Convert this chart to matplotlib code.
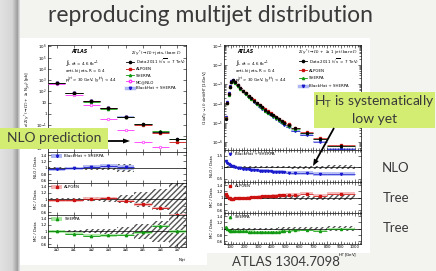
import numpy as np
import matplotlib
matplotlib.use("Agg")
from matplotlib import pyplot as plt
from matplotlib.patches import Rectangle, FancyArrow
from matplotlib.lines import Line2D
from matplotlib.ticker import FixedLocator, NullFormatter, FuncFormatter

# ---- left plot: cross section vs inclusive jet multiplicity ----
njet_labels = ['≥0', '≥1', '≥2', '≥3', '≥4', '≥5', '≥6', '≥7']
data_xs = [520, 70, 13, 3.0, 0.55, 0.12, 0.025, 0.006]
data_unc = [0.03, 0.03, 0.06, 0.08, 0.12, 0.22, 0.32, 0.5]
mcnlo_xs = [480, 46, 6, 0.35, 0.037, 0.0028, 0.0011]
bh_ratio = [0.95, 0.98, 1.02, 1.05, 1.02]
bh_unc = [0.05, 0.05, 0.06, 0.07, 0.08]
alpgen_ratio = [0.97, 0.97, 1.02, 1.03, 0.95, 0.85, 0.73, 0.52]
sherpa_ratio = [1.0, 0.93, 0.87, 0.88, 0.89, 0.97, 1.16, 1.0]

# ---- right plot: normalised H_T distribution, Z + >=1 jet ----
ht_edges = [60, 70, 80, 90, 100, 110, 120, 140, 160, 180, 200, 220, 240, 260, 280,
            300, 320, 340, 360, 380, 400, 420, 440, 460, 480, 500, 540, 600, 700, 800, 1000]
ht_data = [1.6e-5, 1.0e-4, 3.0e-4, 7.5e-4, 1.35e-3, 1.6e-3, 1.3e-3, 9.0e-4, 6.5e-4, 4.6e-4,
           3.4e-4, 2.5e-4, 1.85e-4, 1.4e-4, 1.05e-4, 8.0e-5, 6.2e-5, 4.8e-5, 3.8e-5, 3.0e-5,
           2.4e-5, 1.9e-5, 1.5e-5, 1.2e-5, 9.8e-6, 7.5e-6, 5.0e-6, 3.0e-6, 1.5e-6, 6.0e-7]
ht_bh_ratio = [1.25, 1.2, 1.12, 1.08, 1.05, 1.03, 1.0, 0.98, 0.96, 0.94, 0.92, 0.9, 0.88, 0.87,
               0.86, 0.85, 0.84, 0.83, 0.82, 0.81, 0.8, 0.79, 0.78, 0.78, 0.77, 0.76, 0.74,
               0.75, 0.7, 0.7]
ht_alpgen_ratio = [1.12, 1.05, 1.0, 0.98, 0.97, 0.97, 0.98, 0.98, 0.99, 1.0, 1.0, 1.01, 1.02,
                   1.03, 1.03, 1.04, 1.05, 1.05, 1.06, 1.06, 1.07, 1.07, 1.08, 1.08, 1.09,
                   1.1, 1.1, 1.13, 1.07, 1.13]
ht_sherpa_ratio = [1.05, 1.0, 0.95, 0.94, 0.93, 0.93, 0.93, 0.93, 0.92, 0.92, 0.92, 0.91, 0.91,
                   0.91, 0.9, 0.9, 0.9, 0.89, 0.89, 0.9, 0.9, 0.9, 0.91, 0.92, 0.93, 0.94,
                   0.95, 0.97, 0.93, 1.0]
ht_data_unc = [0.05, 0.04, 0.03, 0.03, 0.03, 0.03, 0.03, 0.03, 0.03, 0.03, 0.03, 0.03, 0.03,
               0.03, 0.03, 0.03, 0.03, 0.04, 0.04, 0.04, 0.04, 0.04, 0.05, 0.05, 0.05, 0.05,
               0.06, 0.06, 0.07, 0.08]

W, H = 436, 271
RED, GREEN, BLUE, MAG = '#cc1111', '#119911', '#1a1acc', '#ff33ff'
RED_B, GREEN_B, BLUE_B = '#f6b4b4', '#a6e6a0', '#b0b8f4'
TS = 2.9
SLIDE = dict(family='Lato', color='#3a3a3a')

fig = plt.figure(figsize=(W / 100, H / 100), dpi=100)
fig.patch.set_facecolor('#f3f3f0')


def px_axes(x0, y0, x1, y1, **kw):
    return fig.add_axes([x0 / W, 1 - y1 / H, (x1 - x0) / W, (y1 - y0) / H], **kw)


# background layer in pixel coords
bg = px_axes(0, 0, W, H)
bg.set_xlim(0, W)
bg.set_ylim(H, 0)
bg.axis('off')
grad = np.concatenate([np.linspace(0.88, 0.84, 12), np.linspace(0.8, 0.62, 5), np.linspace(0.75, 0.95, 3)])
bg.imshow(grad[None, :], cmap='gray', vmin=0, vmax=1, extent=[0, 20, H, 0], aspect='auto')
bg.add_patch(Rectangle((20, 38), 187, 227, color='white', lw=0))
bg.add_patch(Rectangle((207, 38), 163, 215, color='white', lw=0))
bg.text(210, 16, 'reproducing multijet distribution', ha='center', va='center',
        fontsize=16.5, **SLIDE)
for y, s in [(168, 'NLO'), (198, 'Tree'), (228, 'Tree')]:
    bg.text(396, y, s, ha='center', va='center', fontsize=9.5, **SLIDE)
bg.text(286, 262, 'ATLAS 1304.7098', ha='center', va='center', fontsize=9.5, **SLIDE)


def log_fmt(v, pos):
    n = int(round(np.log10(v)))
    if n == 0:
        return '1'
    if n == 1:
        return '10'
    return r'$10^{%d}$' % n


def style(ax):
    ax.tick_params(which='both', direction='in', top=True, right=True, labelsize=TS,
                   pad=1, width=0.4)
    ax.tick_params(which='major', length=2.5)
    ax.tick_params(which='minor', length=1.3)
    for s in ax.spines.values():
        s.set_linewidth(0.5)


def hbars(ax, x0, x1, y, color, lw=0.6, z=3):
    ax.hlines(y, x0, x1, color=color, lw=lw, zorder=z)


handles = [Line2D([], [], color='black', marker='o', ms=1.6, lw=0.6),
           Line2D([], [], color=RED, marker='s', ms=1.5, lw=0.6),
           Line2D([], [], color=GREEN, marker='^', ms=1.6, lw=0.6),
           Line2D([], [], color=MAG, marker='o', mfc='white', ms=1.8, lw=0.6),
           Line2D([], [], color=BLUE_B, marker='v', mfc=BLUE, mec=BLUE, ms=1.8, lw=2.5)]

# ================= left plot =================
nx = np.arange(len(data_xs))
lm = px_axes(48, 45, 186, 152)
lm.set_yscale('log')
lm.set_xlim(-0.5, 7.5)
lm.set_ylim(4e-4, 1.3e6)
style(lm)
lm.set_xticks(nx)
lm.set_xticklabels([])
lm.yaxis.set_major_locator(FixedLocator([10.0 ** k for k in range(-3, 7)]))
lm.yaxis.set_major_formatter(FuncFormatter(log_fmt))
lm.yaxis.set_minor_formatter(NullFormatter())
lm.set_ylabel(r'$\sigma$(Z/$\gamma^*$($\rightarrow\ell\ell$) + $\geq$ N$_{jet}$) [pb]',
              fontsize=TS, labelpad=1)

d = np.array(data_xs)
alp = d * np.array(alpgen_ratio)
she = d * np.array(sherpa_ratio)
bh = d[:len(bh_ratio)] * np.array(bh_ratio)
for i, v in enumerate(bh):
    lm.add_patch(Rectangle((i - 0.5, v * (1 - bh_unc[i])), 1, v * 2 * bh_unc[i],
                           color=BLUE_B, lw=0, zorder=1))
hbars(lm, nx[:len(bh)] - 0.5, nx[:len(bh)] + 0.5, bh, BLUE)
lm.plot(nx[:len(bh)], bh, 'v', color=BLUE, ms=1.8, zorder=4)
hbars(lm, nx - 0.5, nx + 0.5, alp, RED)
lm.plot(nx, alp, 's', color=RED, ms=1.5, zorder=4)
hbars(lm, nx - 0.5, nx + 0.5, she, GREEN)
lm.plot(nx, she, '^', color=GREEN, ms=1.6, zorder=4)
mx = nx[:len(mcnlo_xs)]
hbars(lm, mx - 0.5, mx + 0.5, mcnlo_xs, MAG)
lm.plot(mx, mcnlo_xs, 'o', mfc='white', mec=MAG, mew=0.5, ms=1.8, zorder=4)
hbars(lm, nx - 0.5, nx + 0.5, d, 'black', z=5)
lm.plot(nx, d, 'o', color='black', ms=1.6, zorder=6)

lm.text(0.17, 0.96, 'ATLAS', transform=lm.transAxes, fontsize=3.3, weight='bold',
        style='italic', va='top')
lm.text(0.12, 0.88, r'$\int$L dt = 4.6 fb$^{-1}$', transform=lm.transAxes, fontsize=TS, va='top')
lm.text(0.12, 0.79, r'anti-k$_t$ jets, R = 0.4', transform=lm.transAxes, fontsize=TS, va='top')
lm.text(0.12, 0.72, r'p$_T^{jet}$ > 30 GeV, |y$^{jet}$| < 4.4', transform=lm.transAxes,
        fontsize=TS, va='top')
lm.legend(handles, [r'Data 2011 ($\sqrt{s}$ = 7 TeV)', 'ALPGEN', 'SHERPA', 'MC@NLO',
                    'BlackHat + SHERPA'],
          loc='upper left', bbox_to_anchor=(0.55, 0.9), fontsize=TS, frameon=False,
          handlelength=2.0, labelspacing=0.55, borderpad=0.0, handletextpad=0.5)
lm.text(0.6, 0.97, r'Z/$\gamma^*$($\rightarrow\ell\ell$)+jets, (bare $\ell$)',
        transform=lm.transAxes, fontsize=TS, va='top')

left_panels = [(152, 183, 'NLO / Data', bh_ratio, bh_unc, BLUE, BLUE_B, 'v', 'BlackHat + SHERPA'),
               (183, 215, 'MC / Data', alpgen_ratio, [0.04] * 8, RED, RED_B, 's', 'ALPGEN'),
               (215, 247, 'MC / Data', sherpa_ratio, [0.04] * 8, GREEN, GREEN_B, '^', 'SHERPA')]
for k, (y0, y1, lab, rat, unc, col, bcol, mk, name) in enumerate(left_panels):
    ax = px_axes(48, y0, 186, y1)
    ax.set_xlim(-0.5, 7.5)
    ax.set_ylim(0.52, 1.5)
    style(ax)
    ax.set_xticks(nx)
    ax.set_yticks([0.6, 0.8, 1, 1.2, 1.4])
    ax.set_yticklabels(['0.6', '0.8', '1', '1.2', '1.4'])
    ax.set_ylabel(lab, fontsize=TS, labelpad=1.5)
    n = len(rat)
    xs = nx[:n]
    nh = 5 if k == 0 else 8
    for i in range(nh):
        ax.add_patch(Rectangle((i - 0.5, 1 - data_unc[i]), 1, 2 * data_unc[i], fill=False,
                               hatch='//////', lw=0, edgecolor='#555555', zorder=1))
    for i in range(n):
        ax.add_patch(Rectangle((i - 0.5, rat[i] - unc[i]), 1, 2 * unc[i], color=bcol,
                               lw=0, zorder=2, alpha=0.9))
    ax.axhline(1, color='black', lw=0.5, zorder=3)
    hbars(ax, xs - 0.5, xs + 0.5, rat, col, z=4)
    ax.plot(xs, rat, mk, color=col, ms=1.7, zorder=5)
    ax.add_patch(Rectangle((-0.3, 1.32), 0.6, 0.12, color=bcol, lw=0))
    ax.plot([0.0], [1.38], mk, color=col, ms=1.7)
    ax.text(0.45, 1.38, name, fontsize=TS, va='center')
    if k < 2:
        ax.set_xticklabels([])
    else:
        ax.set_xticklabels(njet_labels)
fig.text(182 / W, 1 - 261 / H, r'N$_{jet}$', fontsize=TS, ha='center')

# ================= right plot =================
e = np.array(ht_edges, dtype=float)
c = 0.5 * (e[:-1] + e[1:])
hd = np.array(ht_data)
rm = px_axes(224, 45, 361, 150)
rm.set_yscale('log')
rm.set_xlim(52, 1045)
rm.set_ylim(3.8e-7, 0.11)
style(rm)
rm.set_xticks(np.arange(100, 1001, 100))
rm.set_xticks(np.arange(60, 1041, 20), minor=True)
rm.set_xticklabels([])
rm.yaxis.set_major_locator(FixedLocator([10.0 ** k for k in range(-6, 0)]))
rm.yaxis.set_major_formatter(FuncFormatter(log_fmt))
rm.yaxis.set_minor_formatter(NullFormatter())
rm.set_ylabel(r'(1/$\sigma_{Z/\gamma^*\rightarrow\ell\ell}$) d$\sigma$/dH$_T$ [1/GeV]',
              fontsize=TS, labelpad=1)
r_bh = hd * np.array(ht_bh_ratio)
r_alp = hd * np.array(ht_alpgen_ratio)
r_she = hd * np.array(ht_sherpa_ratio)
for i in range(len(c)):
    rm.add_patch(Rectangle((e[i], r_bh[i] * 0.9), e[i + 1] - e[i], r_bh[i] * 0.2,
                           color=BLUE_B, lw=0, zorder=1))
for vals, col, mk in [(r_bh, BLUE, 'v'), (r_alp, RED, 's'), (r_she, GREEN, '^'),
                      (hd, 'black', 'o')]:
    hbars(rm, e[:-1], e[1:], vals, col, lw=0.5)
    rm.plot(c, vals, mk, color=col, ms=1.4, zorder=5)
rm.text(0.1, 0.96, 'ATLAS', transform=rm.transAxes, fontsize=3.3, weight='bold',
        style='italic', va='top')
rm.text(0.08, 0.88, r'$\int$L dt = 4.6 fb$^{-1}$', transform=rm.transAxes, fontsize=TS, va='top')
rm.text(0.08, 0.79, r'anti-k$_t$ jets, R = 0.4', transform=rm.transAxes, fontsize=TS, va='top')
rm.text(0.08, 0.72, r'p$_T^{jet}$ > 30 GeV, |y$^{jet}$| < 4.4', transform=rm.transAxes,
        fontsize=TS, va='top')
rm.legend(handles[:3] + handles[4:],
          [r'Data 2011 ($\sqrt{s}$ = 7 TeV)', 'ALPGEN', 'SHERPA', 'BlackHat + SHERPA'],
          loc='upper left', bbox_to_anchor=(0.53, 0.9), fontsize=TS, frameon=False,
          handlelength=2.0, labelspacing=0.9, borderpad=0.0, handletextpad=0.5)
rm.text(0.54, 0.97, r'Z/$\gamma^*$($\rightarrow\ell\ell$) + $\geq$ 1 jet (bare $\ell$)',
        transform=rm.transAxes, fontsize=TS, va='top')

right_panels = [(150, 182, 'NLO / Data', ht_bh_ratio, 0.08, BLUE, BLUE_B, 'v', 'BlackHat + SHERPA',
                 (0.35, 1.75), [0.5, 1, 1.5], ['0.5', '1', '1.5']),
                (182, 213, 'MC / Data', ht_alpgen_ratio, 0.04, RED, RED_B, 's', 'ALPGEN',
                 (0.52, 1.5), [0.6, 0.8, 1, 1.2, 1.4], ['0.6', '0.8', '1', '1.2', '1.4']),
                (213, 244, 'MC / Data', ht_sherpa_ratio, 0.04, GREEN, GREEN_B, '^', 'SHERPA',
                 (0.52, 1.5), [0.6, 0.8, 1, 1.2, 1.4], ['0.6', '0.8', '1', '1.2', '1.4'])]
for k, (y0, y1, lab, rat, unc, col, bcol, mk, name, yl, yt, ytl) in enumerate(right_panels):
    ax = px_axes(224, y0, 361, y1)
    ax.set_xlim(52, 1045)
    ax.set_ylim(*yl)
    style(ax)
    ax.set_xticks(np.arange(100, 1001, 100))
    ax.set_xticks(np.arange(60, 1041, 20), minor=True)
    ax.set_yticks(yt)
    ax.set_yticklabels(ytl)
    ax.set_ylabel(lab, fontsize=TS, labelpad=1.5)
    rat = np.array(rat)
    for i in range(len(c)):
        du = ht_data_unc[i]
        ax.add_patch(Rectangle((e[i], 1 - du), e[i + 1] - e[i], 2 * du, fill=False,
                               hatch='//////', lw=0, edgecolor='#555555', zorder=1))
        ax.add_patch(Rectangle((e[i], rat[i] - unc), e[i + 1] - e[i], 2 * unc, color=bcol,
                               lw=0, zorder=2, alpha=0.9))
    ax.axhline(1, color='black', lw=0.5, zorder=3)
    hbars(ax, e[:-1], e[1:], rat, col, lw=0.5, z=4)
    ax.plot(c, rat, mk, color=col, ms=1.5, zorder=5)
    ytop = yl[1] - 0.12 * (yl[1] - yl[0])
    ax.plot([95], [ytop], mk, color=col, ms=1.7)
    ax.text(130, ytop, name, fontsize=TS, va='center')
    if k < 2:
        ax.set_xticklabels([])
fig.text(348 / W, 1 - 256 / H, r'H$_T$ [GeV]', fontsize=TS, ha='center')

# ================= overlay callouts =================
ov = px_axes(0, 0, W, H)
ov.set_xlim(0, W)
ov.set_ylim(H, 0)
ov.axis('off')
ov.patch.set_alpha(0)
ov.add_patch(Rectangle((0, 128), 108, 21, color='#d3ec72', lw=0))
ov.text(54, 138.5, 'NLO prediction', ha='center', va='center', fontsize=10, **SLIDE)
ov.add_patch(FancyArrow(108, 141, 22, 0, width=1.8, head_width=5, head_length=7,
                        length_includes_head=True, color='black', lw=0))
ov.add_patch(Rectangle((314, 92), 121, 36, color='#d3ec72', lw=0))
ov.text(374.5, 102, r'H$_\mathregular{T}$ is systematically', ha='center', va='center',
        fontsize=10, **SLIDE)
ov.text(374.5, 119, 'low yet', ha='center', va='center', fontsize=10, **SLIDE)
ov.add_patch(FancyArrow(334, 128, -21, 38, width=1.8, head_width=5.5, head_length=7,
                        length_includes_head=True, color='black', lw=0))

fig.savefig('out.png', dpi=100, facecolor=fig.get_facecolor())
